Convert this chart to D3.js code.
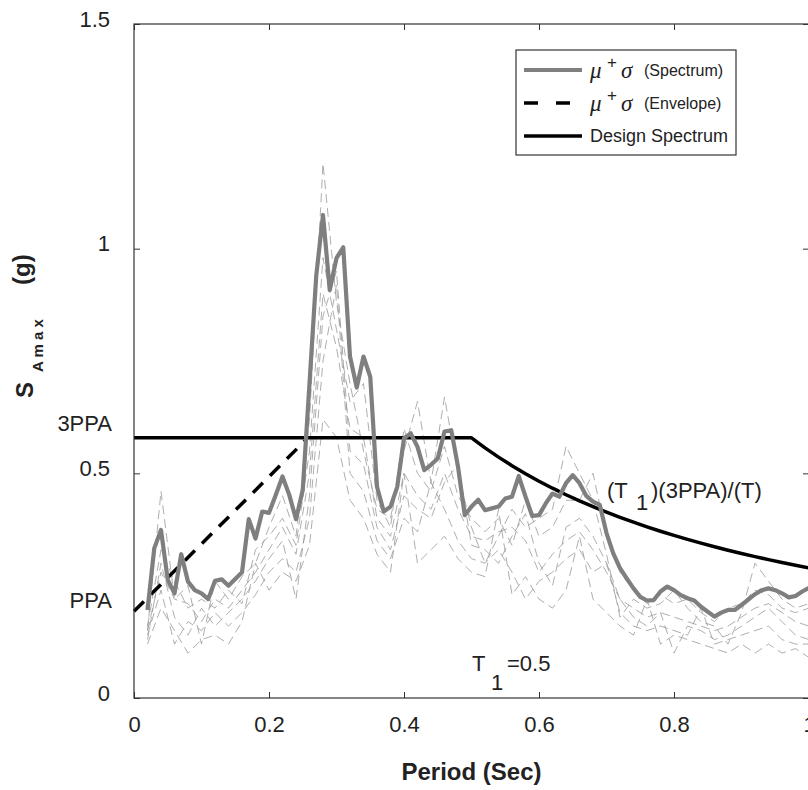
<!DOCTYPE html>
<html>
<head>
<meta charset="utf-8">
<script src="https://cdn.jsdelivr.net/npm/d3@7"></script>
<style>
  body { margin: 0; background: #fff; }
  svg { display: block; font-family: "Liberation Sans", Arial, sans-serif; }
</style>
</head>
<body>
<svg id="chart" width="808" height="790"></svg>
<script>
// ---------------- data ----------------
const PPA = 0.193;
const T1 = 0.5;
const xTicks = [0, 0.2, 0.4, 0.6, 0.8, 1];
const xTickLabels = ["0", "0.2", "0.4", "0.6", "0.8", "1"];
const yTicks = [0, 0.5, 1, 1.5];
const yTickLabels = ["0", "0.5", "1", "1.5"];

// mu + sigma spectrum (thick grey)
const specPeriod = [0.02,0.03,0.04,0.05,0.06,0.07,0.08,0.09,0.10,0.11,0.12,0.13,0.14,0.15,0.16,0.17,0.18,0.19,0.20,
  0.21,0.22,0.23,0.24,0.25,0.26,0.27,0.28,0.29,0.30,0.31,0.32,0.33,0.34,0.35,0.36,0.37,0.38,0.39,0.40,
  0.41,0.42,0.43,0.44,0.45,0.46,0.47,0.48,0.49,0.50,0.51,0.52,0.53,0.54,0.55,0.56,0.57,0.58,0.59,0.60,
  0.61,0.62,0.63,0.64,0.65,0.66,0.67,0.68,0.69,0.70,0.71,0.72,0.73,0.74,0.75,0.76,0.77,0.78,0.79,0.80,
  0.81,0.82,0.83,0.84,0.85,0.86,0.87,0.88,0.89,0.90,0.91,0.92,0.93,0.94,0.95,0.96,0.97,0.98,0.99,1.00];
const specValue = [0.196,0.333,0.374,0.263,0.233,0.320,0.259,0.240,0.233,0.220,0.261,0.264,0.250,0.265,0.280,0.398,0.355,0.415,0.412,
  0.452,0.493,0.452,0.398,0.463,0.700,0.940,1.075,0.908,0.979,1.003,0.760,0.691,0.760,0.715,0.470,0.415,0.426,0.470,0.578,
  0.589,0.559,0.507,0.519,0.533,0.593,0.596,0.515,0.407,0.426,0.441,0.418,0.422,0.426,0.444,0.448,0.494,0.448,0.405,0.407,
  0.433,0.455,0.448,0.478,0.496,0.478,0.450,0.437,0.430,0.367,0.322,0.289,0.266,0.244,0.225,0.217,0.218,0.237,0.248,0.240,
  0.229,0.222,0.217,0.203,0.192,0.181,0.190,0.196,0.196,0.207,0.219,0.231,0.240,0.244,0.240,0.233,0.224,0.227,0.237,0.245];

// individual records (thin dashed grey)
const recPeriod = [0.02,0.04,0.06,0.08,0.10,0.12,0.14,0.16,0.18,0.20,0.22,0.24,0.26,0.28,0.30,0.32,0.34,0.36,0.38,0.40,
  0.42,0.44,0.46,0.48,0.50,0.52,0.54,0.56,0.58,0.60,0.62,0.64,0.66,0.68,0.70,0.72,0.74,0.76,0.78,0.80,
  0.82,0.84,0.86,0.88,0.90,0.92,0.94,0.96,0.98,1.00];
const record1 = [0.15,0.46,0.22,0.25,0.12,0.26,0.22,0.27,0.30,0.38,0.45,0.36,0.62,1.19,0.88,0.70,0.55,0.42,0.40,0.55,
  0.66,0.48,0.67,0.50,0.38,0.30,0.36,0.42,0.38,0.40,0.42,0.56,0.50,0.44,0.32,0.18,0.22,0.20,0.21,0.24,
  0.20,0.17,0.16,0.12,0.19,0.30,0.26,0.22,0.20,0.21];
const record2 = [0.13,0.30,0.18,0.14,0.20,0.16,0.19,0.22,0.26,0.31,0.35,0.22,0.45,0.85,0.95,0.55,0.52,0.38,0.33,0.45,
  0.42,0.40,0.48,0.52,0.34,0.33,0.30,0.36,0.41,0.30,0.25,0.38,0.40,0.36,0.30,0.22,0.18,0.16,0.19,0.10,
  0.16,0.15,0.13,0.14,0.16,0.18,0.20,0.17,0.14,0.13];
const record3 = [0.12,0.20,0.15,0.10,0.13,0.14,0.12,0.17,0.30,0.24,0.28,0.26,0.34,0.62,0.58,0.44,0.40,0.32,0.28,0.50,
  0.30,0.33,0.36,0.31,0.28,0.27,0.42,0.23,0.27,0.22,0.20,0.24,0.36,0.22,0.19,0.16,0.14,0.22,0.12,0.14,
  0.13,0.12,0.11,0.10,0.12,0.10,0.12,0.10,0.11,0.09];
const record4 = [0.16,0.33,0.26,0.20,0.22,0.20,0.24,0.21,0.33,0.36,0.40,0.34,0.55,0.98,0.82,0.66,0.70,0.44,0.38,0.60,
  0.50,0.46,0.56,0.45,0.40,0.37,0.40,0.34,0.44,0.36,0.38,0.44,0.44,0.50,0.36,0.28,0.24,0.21,0.23,0.21,
  0.22,0.19,0.17,0.20,0.21,0.24,0.23,0.20,0.19,0.20];
const record5 = [0.14,0.24,0.12,0.17,0.15,0.19,0.16,0.19,0.23,0.28,0.31,0.28,0.40,0.75,0.92,0.50,0.46,0.35,0.31,0.40,
  0.37,0.48,0.42,0.35,0.31,0.30,0.33,0.28,0.22,0.26,0.28,0.31,0.33,0.28,0.30,0.19,0.16,0.15,0.16,0.15,
  0.14,0.20,0.12,0.13,0.14,0.15,0.16,0.13,0.12,0.12];
const record6 = [0.15,0.28,0.22,0.21,0.17,0.22,0.20,0.24,0.28,0.33,0.38,0.32,0.50,0.90,0.78,0.60,0.58,0.40,0.36,0.50,
  0.45,0.42,0.50,0.42,0.36,0.35,0.37,0.38,0.35,0.28,0.32,0.35,0.37,0.33,0.28,0.22,0.20,0.18,0.19,0.18,
  0.17,0.16,0.15,0.16,0.18,0.20,0.21,0.19,0.17,0.16];
const records = [record1, record2, record3, record4, record5, record6];

// envelope (dashed) and design spectrum
const envelopePeriod = [0, 0.255];
const envelopeValue = [0.193, 0.575];
const designPeriod = [0, 0.50, 0.52, 0.54, 0.56, 0.58, 0.60, 0.62, 0.64, 0.66, 0.68, 0.70, 0.72, 0.74, 0.76,
  0.78, 0.80, 0.82, 0.84, 0.86, 0.88, 0.90, 0.92, 0.94, 0.96, 0.98, 1.00];

// ---------------- drawing ----------------
const svg = d3.select("#chart");
const m = { left: 134, right: 809, top: 24, bottom: 698 };
const x = d3.scaleLinear().domain([0, 1]).range([m.left, m.right]);
const y = d3.scaleLinear().domain([0, 1.5]).range([m.bottom, m.top]);

const line = d3.line().x(d => x(d[0])).y(d => y(d[1]));

// records
const plot = svg.append("g");
records.forEach(r => {
  plot.append("path")
    .datum(recPeriod.map((t, i) => [t, r[i]]))
    .attr("d", line)
    .attr("fill", "none")
    .attr("stroke", "#999")
    .attr("stroke-width", 0.8)
    .attr("stroke-dasharray", "9,5");
});

// design spectrum: 3PPA plateau up to T1, then T1*3PPA/T
const designValue = designPeriod.map(t => t <= T1 ? 3 * PPA : T1 * 3 * PPA / t);
plot.append("path")
  .datum(designPeriod.map((t, i) => [t, designValue[i]]))
  .attr("d", line)
  .attr("fill", "none").attr("stroke", "#000").attr("stroke-width", 3.5)
  .attr("stroke-linejoin", "round");

// envelope
plot.append("path")
  .datum(envelopePeriod.map((t, i) => [t, envelopeValue[i]]))
  .attr("d", line)
  .attr("fill", "none").attr("stroke", "#000").attr("stroke-width", 3.5)
  .attr("stroke-dasharray", "14,10");

// mu + sigma spectrum
plot.append("path")
  .datum(specPeriod.map((t, i) => [t, specValue[i]]))
  .attr("d", line)
  .attr("fill", "none").attr("stroke", "#7f7f7f").attr("stroke-width", 4.2)
  .attr("stroke-linejoin", "round");

// axes box
const axisColor = "#333";
svg.append("rect").attr("x", m.left).attr("y", m.top)
  .attr("width", m.right - m.left).attr("height", m.bottom - m.top)
  .attr("fill", "none").attr("stroke", axisColor).attr("stroke-width", 1.2);

const bottomAxis = d3.axisBottom(x).tickValues(xTicks).tickSize(-6).tickFormat((d, i) => xTickLabels[i]).tickPadding(20);
const gx = svg.append("g").attr("transform", `translate(0,${m.bottom})`).call(bottomAxis);
const topAxis = d3.axisTop(x).tickValues(xTicks).tickSize(-6).tickFormat("");
const gxt = svg.append("g").attr("transform", `translate(0,${m.top})`).call(topAxis);
const leftAxis = d3.axisLeft(y).tickValues(yTicks).tickSize(-6).tickFormat((d, i) => yTickLabels[i]).tickPadding(24);
const gy = svg.append("g").attr("transform", `translate(${m.left},0)`).call(leftAxis);
const rightAxis = d3.axisRight(y).tickValues(yTicks).tickSize(-6).tickFormat("");
const gyr = svg.append("g").attr("transform", `translate(${m.right},0)`).call(rightAxis);
[gx, gxt, gy, gyr].forEach(g => {
  g.select(".domain").remove();
  g.selectAll(".tick line").attr("stroke", axisColor);
  g.selectAll("text").attr("font-size", 22).attr("fill", "#222")
    .attr("font-family", "Liberation Sans, Arial, sans-serif");
});
gy.selectAll("text").attr("dy", "0.1em");
gx.selectAll("text").attr("dy", "0.62em");

// y labels PPA / 3PPA
svg.append("text").attr("x", 112).attr("y", y(3 * PPA) - 7).attr("text-anchor", "end")
  .attr("font-size", 22).attr("fill", "#222").text("3PPA");
svg.append("text").attr("x", 112).attr("y", y(PPA) - 3).attr("text-anchor", "end")
  .attr("font-size", 22).attr("fill", "#222").text("PPA");

// axis titles
svg.append("text").attr("x", (m.left + m.right) / 2).attr("y", 780)
  .attr("text-anchor", "middle").attr("font-size", 24).attr("font-weight", "bold")
  .attr("fill", "#222").text("Period (Sec)");

const yl = svg.append("text").attr("transform", "translate(33,398) rotate(-90)")
  .attr("font-weight", "bold").attr("fill", "#222");
yl.append("tspan").attr("x", 0).attr("y", 0).attr("font-size", 24).text("S");
yl.append("tspan").attr("x", 26).attr("y", 10).attr("font-size", 15).text("A m a x");
yl.append("tspan").attr("x", 113).attr("y", -3).attr("font-size", 24).text("(g)");

// annotations
const ann = svg.append("g").attr("fill", "#222").attr("font-size", 22);
ann.append("text").attr("x", 607).attr("y", 498).text("(T");
ann.append("text").attr("x", 636).attr("y", 510).text("1");
ann.append("text").attr("x", 651).attr("y", 498).text(")(3PPA)/(T)");
ann.append("text").attr("x", 472).attr("y", 671).text("T");
ann.append("text").attr("x", 491).attr("y", 690).text("1");
ann.append("text").attr("x", 507).attr("y", 671).text("=0.5");

// legend
const lg = svg.append("g");
lg.append("rect").attr("x", 516).attr("y", 50).attr("width", 220).attr("height", 105)
  .attr("fill", "#fff").attr("stroke", axisColor).attr("stroke-width", 1.2);
const legendItems = [
  { y: 70, stroke: "#7f7f7f", dash: null, sym: true, label: "(Spectrum)" },
  { y: 103, stroke: "#000", dash: "14,18", sym: true, label: "(Envelope)" },
  { y: 136, stroke: "#000", dash: null, sym: false, label: "Design Spectrum" }
];
legendItems.forEach(it => {
  lg.append("line").attr("x1", 524).attr("x2", 582).attr("y1", it.y).attr("y2", it.y)
    .attr("stroke", it.stroke).attr("stroke-width", it.sym && !it.dash ? 4 : 3.5)
    .attr("stroke-dasharray", it.dash);
  if (it.sym) {
    lg.append("text").attr("x", 590).attr("y", it.y + 8).attr("font-size", 23)
      .attr("font-family", "Liberation Serif, serif").attr("font-style", "italic").attr("fill", "#222").text("μ");
    lg.append("text").attr("x", 607).attr("y", it.y - 2).attr("font-size", 17).attr("fill", "#222").text("+");
    lg.append("text").attr("x", 621).attr("y", it.y + 8).attr("font-size", 23)
      .attr("font-family", "Liberation Serif, serif").attr("font-style", "italic").attr("fill", "#222").text("σ");
    lg.append("text").attr("x", 644).attr("y", it.y + 6).attr("font-size", 16).attr("fill", "#222").text(it.label);
  } else {
    lg.append("text").attr("x", 590).attr("y", it.y + 6).attr("font-size", 18).attr("fill", "#222").text(it.label);
  }
});
</script>
</body>
</html>
